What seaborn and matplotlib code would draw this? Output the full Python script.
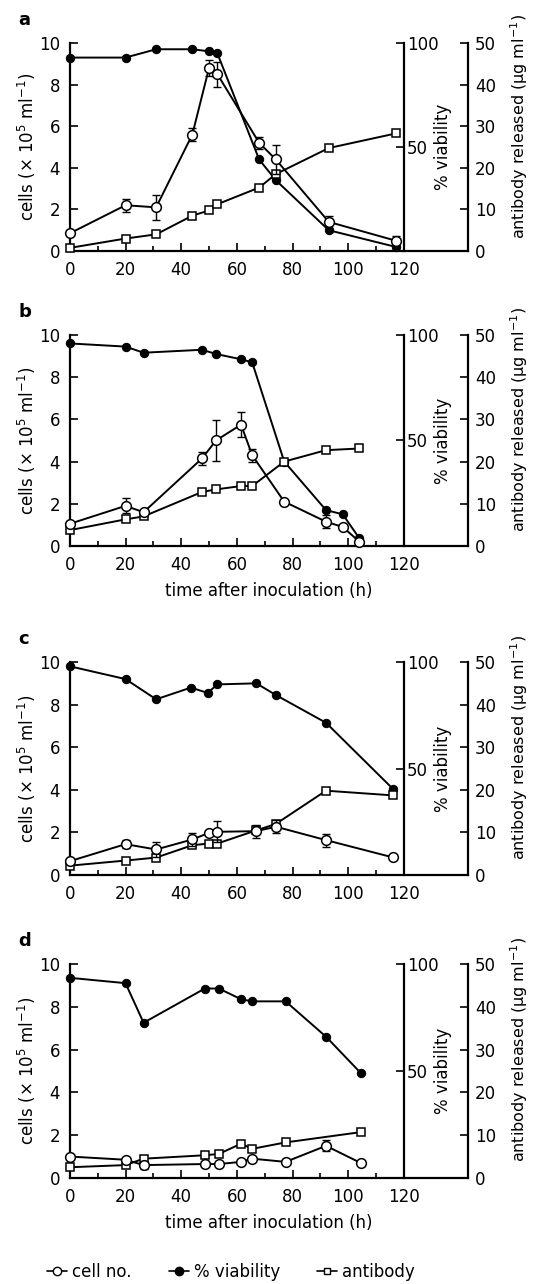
import numpy as np
import pandas as pd
import seaborn as sns
import matplotlib.pyplot as plt
from matplotlib.lines import Line2D

sns.set_style("ticks")
plt.rcParams['font.family'] = ['DejaVu Sans']
plt.rcParams['font.size'] = 11
for k in ("text.color", "axes.labelcolor", "xtick.color", "ytick.color", "axes.edgecolor"):
    plt.rcParams[k] = "black"

# ---- panel a ----
time_a = [0, 20, 31, 44, 50, 53, 68, 74, 93, 117]
cells_a = [0.85, 2.2, 2.1, 5.6, 8.8, 8.5, 5.2, 4.4, 1.4, 0.5]
cells_err_a = [0, 0.3, 0.6, 0.3, 0.4, 0.6, 0.3, 0.7, 0.3, 0.2]
viab_time_a = [0, 20, 31, 44, 50, 53, 68, 74, 93, 117]
viab_a = [93, 93, 97, 97, 96, 95, 44, 34, 10, 2]
ab_time_a = [0, 20, 31, 44, 50, 53, 68, 74, 93, 117]
ab_a = [0.75, 3.0, 4.0, 8.5, 9.75, 11.25, 15.25, 18.5, 24.75, 28.25]

# ---- panel b ----
time_b = [0, 20, 26.5, 47.5, 52.5, 61.5, 65.5, 77, 92, 98, 104]
cells_b = [1.05, 1.9, 1.6, 4.15, 5.0, 5.75, 4.3, 2.1, 1.15, 0.9, 0.2]
cells_err_b = [0, 0.35, 0, 0.3, 0.95, 0.6, 0.3, 0, 0.3, 0, 0]
viab_time_b = [0, 20, 26.5, 47.5, 52.5, 61.5, 65.5, 77, 92, 98, 104]
viab_b = [96, 94.5, 91.6, 93, 91, 88.5, 87, 40, 17, 15, 3.6]
ab_time_b = [0, 20, 26.5, 47.5, 52.5, 61.5, 65.5, 77, 92, 104]
ab_b = [3.75, 6.3, 7.0, 12.8, 13.4, 14.2, 14.2, 20.0, 22.7, 23.1]

# ---- panel c ----
time_c = [0, 20, 31, 44, 50, 53, 67, 74, 92, 116]
cells_c = [0.65, 1.45, 1.2, 1.67, 1.98, 2.03, 2.06, 2.27, 1.64, 0.83]
cells_err_c = [0, 0.2, 0.35, 0.3, 0, 0.5, 0.3, 0.3, 0.3, 0]
viab_time_c = [0, 20, 31, 43.5, 49.5, 53, 67, 74, 92, 116]
viab_c = [98, 92, 82.5, 88, 85.5, 89.5, 90, 84.5, 71.5, 40.5]
ab_time_c = [0, 20, 31, 44, 50, 53, 67, 74, 92, 116]
ab_c = [2.2, 3.4, 4.1, 7.0, 7.4, 7.4, 10.5, 12.0, 19.8, 18.7]

# ---- panel d ----
time_d = [0, 20, 26.5, 48.5, 53.5, 61.5, 65.5, 77.5, 92, 104.5]
cells_d = [1.0, 0.85, 0.6, 0.65, 0.65, 0.75, 0.9, 0.75, 1.5, 0.7]
cells_err_d = [0, 0, 0.2, 0, 0, 0, 0, 0, 0.25, 0]
viab_time_d = [0, 20, 26.5, 48.5, 53.5, 61.5, 65.5, 77.5, 92, 104.5]
viab_d = [93.5, 91, 72.5, 88.5, 88.5, 83.5, 82.5, 82.5, 66, 49]
ab_time_d = [0, 20, 26.5, 48.5, 53.5, 61.5, 65.5, 77.5, 104.5]
ab_d = [2.5, 3.0, 4.5, 5.3, 5.6, 8.0, 6.8, 8.3, 10.7]

panels = [
    ("a", time_a, cells_a, cells_err_a, viab_time_a, viab_a, ab_time_a, ab_a, False),
    ("b", time_b, cells_b, cells_err_b, viab_time_b, viab_b, ab_time_b, ab_b, True),
    ("c", time_c, cells_c, cells_err_c, viab_time_c, viab_c, ab_time_c, ab_c, False),
    ("d", time_d, cells_d, cells_err_d, viab_time_d, viab_d, ab_time_d, ab_d, True),
]
# figure-fraction boxes [bottom, height] for each panel
boxes = [(0.8045, 0.1620), (0.5748, 0.1643), (0.3185, 0.1659), (0.0826, 0.1667)]

LW = 1.4
fig = plt.figure(figsize=(5.37, 12.84), dpi=100)

for (letter, t, cells, err, vt, viab, abt, ab, xlabel), (bottom, height) in zip(panels, boxes):
    ax = fig.add_axes([0.130, bottom, 0.7415, height])
    ax_v = ax.twinx()
    ax_ab = ax.twinx()
    ax_c = ax.twinx()   # cells drawn on top, same scale as ax
    ax_c.set_axis_off()

    df_c = pd.DataFrame({"time": t, "cells": cells})
    df_v = pd.DataFrame({"time": vt, "viab": viab})
    df_ab = pd.DataFrame({"time": abt, "ab": ab})

    sns.lineplot(data=df_v, x="time", y="viab", ax=ax_v, color="black", lw=LW,
                 marker="o", ms=6, mfc="black", mec="black", sort=False, clip_on=False)
    sns.lineplot(data=df_ab, x="time", y="ab", ax=ax_ab, color="black", lw=LW,
                 marker="s", ms=5.5, mfc="white", mec="black", mew=1.1, sort=False,
                 clip_on=False, zorder=3)
    sns.lineplot(data=df_c, x="time", y="cells", ax=ax_c, color="black", lw=LW,
                 marker="o", ms=7, mfc="white", mec="black", mew=1.1, sort=False,
                 clip_on=False, zorder=4)
    e = np.array(err)
    m = e > 0
    ax_c.errorbar(np.array(t)[m], np.array(cells)[m], yerr=e[m], fmt="none",
                  ecolor="black", elinewidth=1.0, capsize=3, capthick=1.0,
                  clip_on=False, zorder=2)

    for a_ in (ax, ax_v, ax_ab, ax_c):
        a_.set_xlim(0, 143)
    ax.set_ylim(0, 10)
    ax_c.set_ylim(0, 10)
    ax_v.set_ylim(0, 100)
    ax_ab.set_ylim(0, 50)

    # left / bottom axis
    for s in ("top", "right"):
        ax.spines[s].set_visible(False)
    for s in ("left", "bottom"):
        ax.spines[s].set_linewidth(1.6)
    ax.set_xticks([0, 20, 40, 60, 80, 100, 120])
    ax.set_xticks([10, 30, 50, 70, 90, 110], minor=True)
    ax.set_yticks([0, 2, 4, 6, 8, 10])
    ax.yaxis.tick_left()
    ax.tick_params(axis="both", which="major", direction="in", length=6, width=1.2,
                   labelsize=12, pad=7)
    ax.tick_params(axis="x", which="minor", direction="in", length=3.5, width=1.2)
    ax.set_ylabel("cells (× 10$^5$ ml$^{-1}$)", fontsize=12, labelpad=1)
    if xlabel:
        ax.set_xlabel("time after inoculation (h)", fontsize=12, labelpad=6)
    else:
        ax.set_xlabel("")

    # viability axis at x = 120
    for s in ("top", "left", "bottom"):
        ax_v.spines[s].set_visible(False)
    ax_v.spines["right"].set_position(("data", 120))
    ax_v.spines["right"].set_linewidth(1.6)
    ax_v.set_yticks([50, 100])
    ax_v.tick_params(axis="y", direction="in", length=6, width=1.2, labelsize=12, pad=2)
    ax_v.set_ylabel("% viability", fontsize=12)
    ax_v.yaxis.set_label_coords(0.915, 0.5)

    # antibody axis at the right edge
    for s in ("top", "left", "bottom"):
        ax_ab.spines[s].set_visible(False)
    ax_ab.spines["right"].set_linewidth(1.6)
    ax_ab.set_yticks([0, 10, 20, 30, 40, 50])
    ax_ab.tick_params(axis="y", direction="in", length=6, width=1.2, labelsize=12, pad=5)
    ax_ab.set_ylabel("antibody released (µg ml$^{-1}$)", fontsize=11.5)
    ax_ab.yaxis.set_label_coords(1.10, 0.6)

    fig.text(18 / 537, bottom + height + 23 / 1284, letter, fontsize=13,
             fontweight="bold", va="center", ha="left")

handles = [
    Line2D([0], [0], color="black", lw=1.2, marker="o", ms=6, mfc="white", mec="black"),
    Line2D([0], [0], color="black", lw=1.2, marker="o", ms=6, mfc="black", mec="black"),
    Line2D([0], [0], color="black", lw=1.2, marker="s", ms=5, mfc="white", mec="black"),
]
fig.legend(handles, ["cell no.", "% viability", "antibody"], loc="center",
           bbox_to_anchor=(0.43, 1 - 1272 / 1284), ncol=3, frameon=False,
           fontsize=12, handlelength=1.2, handletextpad=0.3, columnspacing=2.2)

fig.savefig("out.png", dpi=100)
